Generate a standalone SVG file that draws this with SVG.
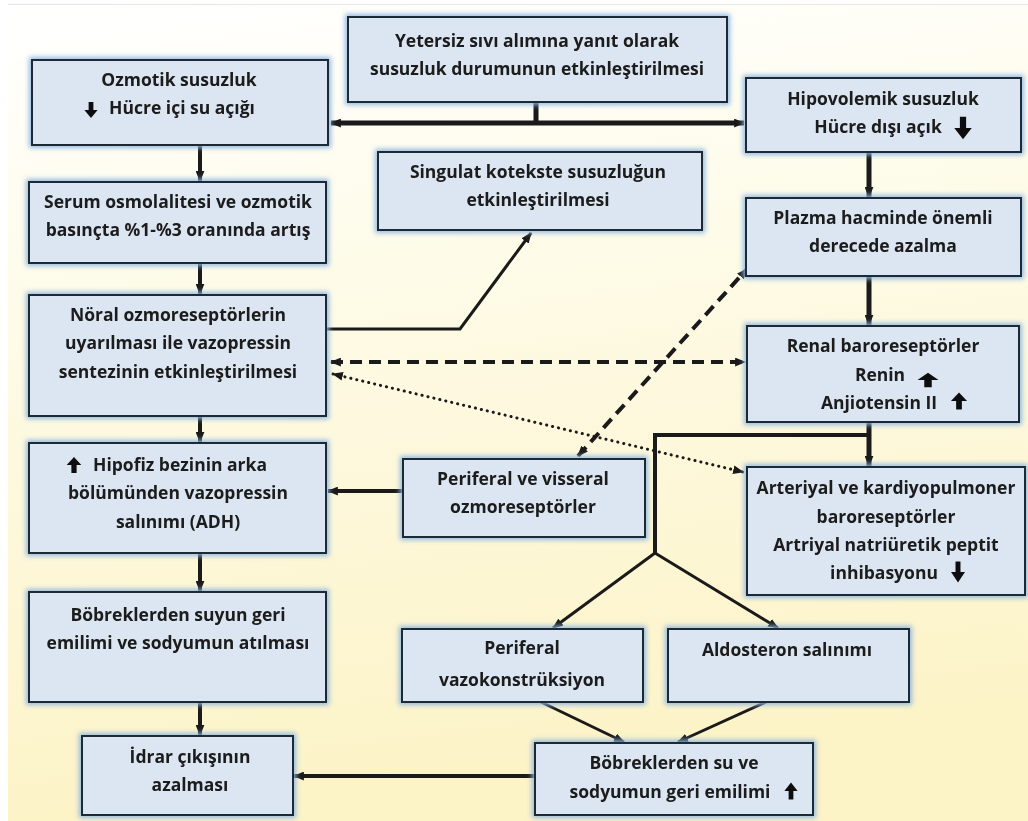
<svg xmlns="http://www.w3.org/2000/svg" width="1028" height="821" viewBox="0 0 1028 821">
  <defs>
    <linearGradient id="bg" x1="0" y1="0" x2="0.15" y2="1">
      <stop offset="0" stop-color="#ffffff"/>
      <stop offset="0.3" stop-color="#fefcec"/>
      <stop offset="1" stop-color="#fcf3c6"/>
    </linearGradient>
    <filter id="glow" x="-10%" y="-20%" width="120%" height="140%">
      <feMorphology in="SourceAlpha" operator="dilate" radius="2" result="d"/>
      <feGaussianBlur in="d" stdDeviation="2.5" result="b"/>
      <feFlood flood-color="#8fb7e2" flood-opacity="0.95"/>
      <feComposite in2="b" operator="in" result="g"/>
      <feMerge>
        <feMergeNode in="g"/>
        <feMergeNode in="SourceGraphic"/>
      </feMerge>
    </filter>
    <marker id="ah" viewBox="0 0 10 8" refX="9" refY="4" markerWidth="11" markerHeight="9" markerUnits="userSpaceOnUse" orient="auto-start-reverse">
      <path d="M0,0 L10,4 L0,8 Z" fill="#1a1a1a"/>
    </marker>
    <path id="dn" d="M-2.5,-8 H2.5 V0 H7 L0,8 L-7,0 H-2.5 Z"/>
    <path id="up" d="M-2.5,8 H2.5 V0 H7 L0,-8 L-7,0 H-2.5 Z"/>
  </defs>
  <style>
    .box { fill: #dce6f2; stroke: #1f2a36; stroke-width: 2; }
    .node { filter: url(#glow); }
    text { font-family: "Open Sans", "Noto Sans", "Liberation Sans", sans-serif; font-weight: 700; font-size: 17.5px; fill: #1a1a1a; text-anchor: middle; }
    .ic { fill: #111111; }
    .ln { fill: none; stroke: #1a1a1a; stroke-linecap: butt; stroke-linejoin: miter; }
    .w5 { stroke-width: 5; }
    .w4 { stroke-width: 4; }
    .w3 { stroke-width: 3; }
    .dash { stroke-width: 4; stroke-dasharray: 12 7; }
    .dot { stroke-width: 3; stroke-dasharray: 0.1 6; stroke-linecap: round; }
    .arr { marker-end: url(#ah); }
    .arr2 { marker-start: url(#ah); marker-end: url(#ah); }
  </style>

  <!-- background -->
  <rect x="0" y="0" width="1028" height="821" fill="#ffffff"/>
  <rect x="8" y="5" width="1020" height="816" fill="url(#bg)"/>
  <line x1="8" y1="4.5" x2="1028" y2="4.5" stroke="#e6e6e6" stroke-width="1"/>

  <!-- connectors -->
  <g id="connectors">
    <path class="ln w5" d="M536,101 V123"/>
    <path class="ln w5 arr2" d="M331,123 H744"/>
    <path class="ln w4 arr" d="M200,145 V181"/>
    <path class="ln w4 arr" d="M200,263 V294"/>
    <path class="ln w4 arr" d="M200,416 V442"/>
    <path class="ln w4 arr" d="M200,553 V591"/>
    <path class="ln w4 arr" d="M200,702 V735"/>
    <path class="ln w5 arr" d="M869,152 V197"/>
    <path class="ln w5 arr" d="M869,276 V325"/>
    <path class="ln w5 arr" d="M869,422 V466"/>
    <path class="ln w4" d="M869,435 H655 V553"/>
    <path class="ln w3 arr" d="M655,553 L553,628"/>
    <path class="ln w3 arr" d="M655,553 L778,628"/>
    <path class="ln w3 arr" d="M327,329 H460 L531,233"/>
    <path class="ln dash arr2" d="M331,362 H745"/>
    <path class="ln dash arr2" d="M578,456 L747,269"/>
    <path class="ln dot arr2" d="M333,374 L743,472"/>
    <path class="ln w4 arr" d="M403,491 H328"/>
    <path class="ln w3 arr" d="M541,702 L624,742"/>
    <path class="ln w3 arr" d="M766,702 L678,742"/>
    <path class="ln w4 arr" d="M535,776 H294"/>
  </g>

  <!-- nodes -->
  <g id="n-yetersiz" class="node">
    <rect class="box" x="348" y="17" width="379" height="85"/>
    <text x="537" y="47">Yetersiz sıvı alımına yanıt olarak</text>
    <text x="537" y="75">susuzluk durumunun etkinleştirilmesi</text>
  </g>
  <g id="n-ozmotik" class="node">
    <rect class="box" x="32" y="60" width="296" height="85"/>
    <text x="179" y="86">Ozmotik susuzluk</text>
    <use href="#dn" class="ic" transform="translate(91,110) scale(0.95,1)"/>
    <text x="182" y="114">Hücre içi su açığı</text>
  </g>
  <g id="n-hipovolemik" class="node">
    <rect class="box" x="746" y="78" width="275" height="74"/>
    <text x="883" y="105">Hipovolemik susuzluk</text>
    <text x="878" y="133">Hücre dışı açık</text>
    <use href="#dn" class="ic" transform="translate(963,128) scale(1.25,1.4)"/>
  </g>
  <g id="n-serum" class="node">
    <rect class="box" x="29" y="182" width="297" height="81"/>
    <text x="178" y="208">Serum osmolalitesi ve ozmotik</text>
    <text x="178" y="236">basınçta %1-%3 oranında artış</text>
  </g>
  <g id="n-singulat" class="node">
    <rect class="box" x="378" y="152" width="324" height="78"/>
    <text x="538" y="178">Singulat kotekste susuzluğun</text>
    <text x="538" y="206">etkinleştirilmesi</text>
  </g>
  <g id="n-plazma" class="node">
    <rect class="box" x="746" y="198" width="275" height="78"/>
    <text x="883" y="224">Plazma hacminde önemli</text>
    <text x="883" y="252">derecede azalma</text>
  </g>
  <g id="n-noral" class="node">
    <rect class="box" x="29" y="295" width="297" height="121"/>
    <text x="178" y="321">Nöral ozmoreseptörlerin</text>
    <text x="178" y="349">uyarılması ile vazopressin</text>
    <text x="178" y="378">sentezinin etkinleştirilmesi</text>
  </g>
  <g id="n-renal" class="node">
    <rect class="box" x="747" y="326" width="272" height="96"/>
    <text x="883" y="352">Renal baroreseptörler</text>
    <text x="880" y="381">Renin</text>
    <use href="#up" class="ic" transform="translate(928,380) scale(1.5,0.9)"/>
    <text x="879" y="409">Anjiotensin II</text>
    <use href="#up" class="ic" transform="translate(959,401) scale(1.15,1.05)"/>
  </g>
  <g id="n-hipofiz" class="node">
    <rect class="box" x="29" y="443" width="297" height="110"/>
    <use href="#up" class="ic" transform="translate(74,465) scale(1.05,1)"/>
    <text x="180" y="471">Hipofiz bezinin arka</text>
    <text x="178" y="499">bölümünden vazopressin</text>
    <text x="178" y="528">salınımı (ADH)</text>
  </g>
  <g id="n-periferal-visseral" class="node">
    <rect class="box" x="403" y="459" width="242" height="78"/>
    <text x="523" y="485">Periferal ve visseral</text>
    <text x="523" y="513">ozmoreseptörler</text>
  </g>
  <g id="n-arteriyal" class="node">
    <rect class="box" x="747" y="467" width="278" height="128"/>
    <text x="886" y="494">Arteriyal ve kardiyopulmoner</text>
    <text x="886" y="523">baroreseptörler</text>
    <text x="886" y="551">Artriyal natriüretik peptit</text>
    <text x="884" y="579">inhibasyonu</text>
    <use href="#dn" class="ic" transform="translate(958,572) scale(1,1.3)"/>
  </g>
  <g id="n-bobrek-suyun" class="node">
    <rect class="box" x="29" y="592" width="297" height="110"/>
    <text x="178" y="621">Böbreklerden suyun geri</text>
    <text x="178" y="649">emilimi ve sodyumun atılması</text>
  </g>
  <g id="n-vazokonstruksiyon" class="node">
    <rect class="box" x="402" y="629" width="241" height="73"/>
    <text x="522" y="654">Periferal</text>
    <text x="522" y="686">vazokonstrüksiyon</text>
  </g>
  <g id="n-aldosteron" class="node">
    <rect class="box" x="668" y="629" width="241" height="73"/>
    <text x="787" y="656">Aldosteron salınımı</text>
  </g>
  <g id="n-idrar" class="node">
    <rect class="box" x="82" y="736" width="211" height="79"/>
    <text x="190" y="763">İdrar çıkışının</text>
    <text x="190" y="791">azalması</text>
  </g>
  <g id="n-bobrek-su" class="node">
    <rect class="box" x="535" y="743" width="278" height="72"/>
    <text x="674" y="769">Böbreklerden su ve</text>
    <text x="670" y="798">sodyumun geri emilimi</text>
    <use href="#up" class="ic" transform="translate(791,791) scale(0.95,1.05)"/>
  </g>
</svg>
